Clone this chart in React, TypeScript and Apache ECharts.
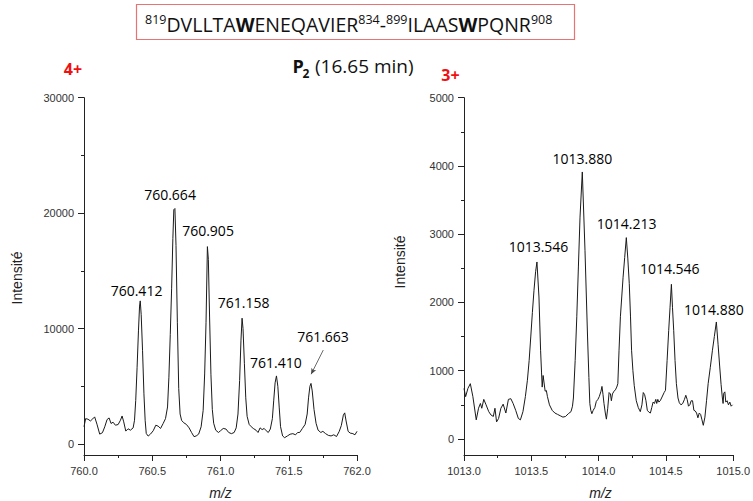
import React, { useEffect, useRef } from 'react';
import * as echarts from 'echarts';

// ---- data ----
const leftSpectrum: [number, number][] = [
  [760.0, 1500], [760.012, 2200], [760.029, 2150], [760.047, 2000], [760.064, 2180], [760.078, 2350],
  [760.095, 1720], [760.115, 860], [760.135, 980], [760.152, 1490], [760.169, 2120], [760.184, 2260],
  [760.198, 1780], [760.213, 1890], [760.23, 1630], [760.25, 1690], [760.267, 2060], [760.279, 2430],
  [760.291, 1920], [760.306, 1120], [760.323, 1320], [760.34, 1200], [760.36, 1400], [760.37, 2060],
  [760.379, 3780], [760.389, 6650], [760.399, 9800], [760.407, 11950], [760.412, 12400], [760.419, 11200],
  [760.429, 8080], [760.439, 4350], [760.448, 2060], [760.456, 920], [760.47, 690], [760.487, 860],
  [760.507, 1150], [760.526, 1630], [760.543, 1550], [760.561, 1350], [760.58, 1780], [760.597, 2200],
  [760.612, 3210], [760.622, 5790], [760.632, 9500], [760.642, 13500], [760.651, 17800], [760.658, 20300],
  [760.666, 20400], [760.674, 17200], [760.684, 10500], [760.694, 4800], [760.704, 2600], [760.715, 2050],
  [760.73, 1850], [760.75, 1700], [760.77, 1400], [760.788, 1000], [760.806, 640], [760.822, 700],
  [760.84, 860], [760.858, 1490], [760.873, 2920], [760.884, 6070], [760.894, 10500], [760.904, 17100],
  [760.911, 16000], [760.92, 11000], [760.93, 6000], [760.94, 3000], [760.95, 1800], [760.965, 1200],
  [760.985, 1000], [761.0, 1150], [761.02, 1350], [761.04, 1300], [761.06, 1000], [761.08, 900],
  [761.1, 1000], [761.115, 1400], [761.128, 2600], [761.14, 5500], [761.15, 9000], [761.158, 10900],
  [761.165, 10000], [761.175, 7000], [761.185, 4000], [761.195, 2400], [761.21, 1700], [761.225, 1500],
  [761.24, 1350], [761.26, 1200], [761.275, 1000], [761.29, 1400], [761.305, 1250], [761.32, 1350],
  [761.335, 1150], [761.35, 1000], [761.365, 1300], [761.38, 2200], [761.39, 3800], [761.4, 5300],
  [761.41, 5900], [761.42, 5000], [761.43, 3200], [761.44, 1500], [761.455, 700], [761.47, 550],
  [761.49, 700], [761.51, 850], [761.53, 900], [761.55, 800], [761.565, 1000], [761.58, 1000],
  [761.6, 1350], [761.62, 1700], [761.635, 2600], [761.645, 4000], [761.655, 5000], [761.663, 5250],
  [761.672, 4600], [761.685, 3000], [761.7, 1800], [761.715, 1200], [761.735, 1000], [761.75, 1100],
  [761.77, 900], [761.79, 750], [761.81, 700], [761.83, 800], [761.85, 650], [761.87, 1100],
  [761.885, 1600], [761.9, 2500], [761.91, 2700], [761.92, 2000], [761.935, 1100], [761.95, 950],
  [761.97, 900], [761.985, 800], [762.0, 1100],
];

const rightSpectrum: [number, number][] = [
  [1013.0, 740], [1013.012, 620], [1013.029, 740], [1013.047, 810], [1013.066, 620], [1013.091, 280],
  [1013.108, 450], [1013.122, 520], [1013.132, 450], [1013.147, 580], [1013.164, 500], [1013.184, 400],
  [1013.201, 350], [1013.218, 330], [1013.23, 450], [1013.242, 250], [1013.257, 300], [1013.274, 450],
  [1013.291, 510], [1013.311, 380], [1013.33, 580], [1013.348, 590], [1013.365, 520], [1013.384, 420],
  [1013.404, 300], [1013.419, 280], [1013.438, 400], [1013.456, 620], [1013.471, 860], [1013.484, 1150],
  [1013.496, 1494], [1013.508, 1850], [1013.52, 2178], [1013.532, 2450], [1013.542, 2593], [1013.557, 2080],
  [1013.569, 1300], [1013.576, 980], [1013.581, 760], [1013.588, 930], [1013.595, 820], [1013.603, 700],
  [1013.612, 710], [1013.62, 620], [1013.635, 500], [1013.655, 420], [1013.675, 380], [1013.695, 360],
  [1013.715, 340], [1013.735, 320], [1013.755, 330], [1013.775, 370], [1013.795, 400], [1013.806, 480],
  [1013.813, 600], [1013.826, 1150], [1013.838, 1790], [1013.85, 2520], [1013.862, 3250], [1013.879, 3912],
  [1013.899, 2764], [1013.918, 1494], [1013.928, 900], [1013.935, 518], [1013.942, 420], [1013.95, 370],
  [1013.96, 420], [1013.972, 460], [1013.983, 550], [1013.995, 580], [1014.005, 620], [1014.018, 700],
  [1014.025, 770], [1014.033, 650], [1014.04, 520], [1014.05, 380], [1014.058, 290], [1014.068, 450],
  [1014.078, 680], [1014.088, 660], [1014.095, 560], [1014.103, 660], [1014.115, 700], [1014.125, 720],
  [1014.135, 760], [1014.143, 810], [1014.152, 1300], [1014.162, 1790], [1014.172, 2080], [1014.182, 2370],
  [1014.194, 2660], [1014.206, 2950], [1014.217, 2650], [1014.228, 2275], [1014.237, 1800], [1014.245, 1300],
  [1014.255, 1000], [1014.265, 780], [1014.28, 560], [1014.295, 460], [1014.31, 400], [1014.322, 500],
  [1014.332, 680], [1014.342, 650], [1014.352, 560], [1014.362, 420], [1014.375, 390], [1014.385, 380],
  [1014.395, 460], [1014.405, 540], [1014.415, 520], [1014.425, 580], [1014.432, 520], [1014.44, 580],
  [1014.448, 540], [1014.458, 560], [1014.468, 600], [1014.487, 680], [1014.497, 713], [1014.509, 1150],
  [1014.521, 1592], [1014.531, 1930], [1014.541, 2266], [1014.549, 1930], [1014.558, 1592], [1014.568, 1150],
  [1014.578, 810], [1014.59, 600], [1014.6, 530], [1014.612, 500], [1014.625, 520], [1014.638, 580],
  [1014.648, 640], [1014.658, 580], [1014.668, 480], [1014.678, 500], [1014.688, 560], [1014.698, 560],
  [1014.708, 420], [1014.718, 410], [1014.728, 380], [1014.738, 310], [1014.748, 380], [1014.758, 360],
  [1014.768, 280], [1014.778, 200], [1014.79, 320], [1014.802, 560], [1014.814, 810], [1014.83, 1050],
  [1014.846, 1300], [1014.86, 1500], [1014.875, 1714], [1014.888, 1380], [1014.9, 1055], [1014.91, 800],
  [1014.919, 615], [1014.925, 520], [1014.93, 670], [1014.938, 690], [1014.945, 540], [1014.955, 560],
  [1014.965, 500], [1014.975, 540], [1014.985, 480], [1014.995, 500],
];

const leftPeakMz = [760.412, 760.664, 760.905, 761.158, 761.41, 761.663];
const leftPeakInt = [12400, 20400, 17100, 10900, 5900, 5250];
const rightPeakMz = [1013.546, 1013.88, 1014.213, 1014.546, 1014.88];
const rightPeakInt = [2593, 3912, 2950, 2266, 1714];

const leftXTicks = { min: 760, max: 762, interval: 0.5 };
const rightXTicks = { min: 1013, max: 1015, interval: 0.5 };
const leftYMajor = [0, 10000, 20000, 30000];
const leftYMinor = [5000, 15000, 25000];
const rightYMajor = [0, 1000, 2000, 3000, 4000, 5000];
const rightYMinor = [500, 1500, 2500, 3500, 4500];
const leftArrow: [number, number][] = [[761.753, 8140], [761.664, 6050]];

// label placement (pixel offsets from peak apex)
const leftLabelOffset = [[-3.7, -10.7], [-4.6, -14.1], [0.5, -16.6], [1.6, -15.5], [-0.5, -13.1], [12, -47.3]];
const rightLabelOffset = [[1, -15.1], [-0.1, -13.1], [-0.6, -13.7], [-2.3, -16.1], [-3.1, -12.7]];

const AXIS_COLOR = '#222';
const LABEL_COLOR = '#333';
const TICK_FONT = 'Liberation Sans';

function xAxisCfg(grid: number, t: { min: number; max: number; interval: number }) {
  return {
    type: 'value', gridIndex: grid, min: t.min, max: t.max, interval: t.interval,
    axisLine: { show: true, onZero: false, lineStyle: { color: AXIS_COLOR, width: 1 } },
    axisTick: { show: true, length: 6, lineStyle: { color: AXIS_COLOR } },
    minorTick: { show: true, splitNumber: 2, length: 3, lineStyle: { color: AXIS_COLOR } },
    axisLabel: { formatter: (v: number) => v.toFixed(1), fontSize: 11, color: LABEL_COLOR, fontFamily: TICK_FONT, margin: 10 },
    splitLine: { show: false },
  };
}
function yAxisCfg(grid: number, min: number, max: number, major: number[]) {
  return {
    type: 'value', gridIndex: grid, position: 'left', min, max,
    axisLine: { show: true, onZero: false, lineStyle: { color: AXIS_COLOR, width: 1 } },
    axisTick: { show: true, length: 6, customValues: major, lineStyle: { color: AXIS_COLOR } },
    axisLabel: {
      customValues: major, formatter: (v: number) => String(Math.round(v)),
      fontSize: 11, color: LABEL_COLOR, fontFamily: TICK_FONT, margin: 10,
    },
    splitLine: { show: false },
  };
}
function yMinorCfg(grid: number, min: number, max: number, minor: number[]) {
  return {
    type: 'value', gridIndex: grid, position: 'left', min, max,
    axisLine: { show: false, onZero: false },
    axisTick: { show: true, length: 3, customValues: minor, lineStyle: { color: AXIS_COLOR } },
    axisLabel: { show: false },
    splitLine: { show: false },
  };
}
function peakSeries(xi: number, yi: number, mz: number[], ints: number[], offs: number[][]) {
  return {
    type: 'scatter', xAxisIndex: xi, yAxisIndex: yi, symbolSize: 0.1, silent: true,
    itemStyle: { color: 'rgba(0,0,0,0)' },
    data: mz.map((m, i) => ({ value: [m, ints[i]], label: { offset: offs[i] } })),
    label: {
      show: true, position: 'inside', formatter: (p: any) => p.value[0].toFixed(3),
      fontSize: 14, fontFamily: 'Open Sans', color: '#000', opacity: 1,
    },
    z: 5,
  };
}

export default function App() {
  const ref = useRef<HTMLDivElement>(null);
  useEffect(() => {
    if (!ref.current) return;
    const chart = echarts.init(ref.current, undefined, { renderer: 'svg' });
    const option: any = {
      animation: false,
      backgroundColor: '#ffffff',
      grid: [
        { left: 84, top: 97.7, width: 273, height: 357.3 },
        { left: 464, top: 97.7, width: 273, height: 357.3 },
      ],
      xAxis: [xAxisCfg(0, leftXTicks), xAxisCfg(1, rightXTicks)],
      yAxis: [
        yAxisCfg(0, -950, 30000, leftYMajor),
        yMinorCfg(0, -950, 30000, leftYMinor),
        yAxisCfg(1, -235, 5000, rightYMajor),
        yMinorCfg(1, -235, 5000, rightYMinor),
      ],
      series: [
        {
          type: 'line', xAxisIndex: 0, yAxisIndex: 0, data: leftSpectrum, showSymbol: false, silent: true,
          lineStyle: { color: '#1a1a1a', width: 1 },
          markLine: {
            silent: true, symbol: ['none', 'arrow'], symbolSize: [4, 6],
            lineStyle: { color: '#444', width: 0.8, type: 'solid' }, label: { show: false },
            data: [[{ coord: leftArrow[0] }, { coord: leftArrow[1] }]],
          },
        },
        {
          type: 'line', xAxisIndex: 1, yAxisIndex: 2, data: rightSpectrum, showSymbol: false, silent: true,
          lineStyle: { color: '#1a1a1a', width: 1 },
        },
        peakSeries(0, 0, leftPeakMz, leftPeakInt, leftLabelOffset),
        peakSeries(1, 2, rightPeakMz, rightPeakInt, rightLabelOffset),
      ],
      graphic: [
        {
          type: 'rect', shape: { x: 136.5, y: 4.5, width: 438, height: 35 },
          style: { fill: '#fff', stroke: '#e87373', lineWidth: 1.2 },
        },
        {
          type: 'text', x: 145, y: 24.7,
          style: {
            text: '{s|819}{m|DVLLTA}{b|W}{m|ENEQAVIER}{s|834}{m|-}{s|899}{m|ILAAS}{b|W}{m|PQNR}{s|908}',
            align: 'left', verticalAlign: 'middle', fill: '#111',
            rich: {
              s: { fontSize: 12.5, fontFamily: 'Open Sans', verticalAlign: 'top', fill: '#111' },
              m: { fontSize: 19.5, fontFamily: 'Open Sans', lineHeight: 24, fill: '#111' },
              b: { fontSize: 19.5, fontFamily: 'Open Sans', fontWeight: 'bold', lineHeight: 24, fill: '#111' },
            },
          },
        },
        { type: 'text', x: 292.5, y: 65.9, style: { text: 'P', font: 'bold 18px "Open Sans"', fill: '#111', align: 'left', verticalAlign: 'middle' } },
        { type: 'text', x: 302.5, y: 73.3, style: { text: '2', font: 'bold 12px "Open Sans"', fill: '#111', align: 'left', verticalAlign: 'middle' } },
        { type: 'text', x: 315, y: 65.9, style: { text: '(16.65 min)', font: '19px "Open Sans"', fill: '#111', align: 'left', verticalAlign: 'middle' } },
        { type: 'text', x: 73, y: 69, style: { text: '4+', font: 'bold 16px "Open Sans"', fill: '#f01010', align: 'center', verticalAlign: 'middle' } },
        { type: 'text', x: 450.5, y: 74.5, style: { text: '3+', font: 'bold 16px "Open Sans"', fill: '#f01010', align: 'center', verticalAlign: 'middle' } },
        { type: 'text', x: 16.5, y: 278, rotation: Math.PI / 2, style: { text: 'Intensité', font: '14px "Liberation Sans"', fill: '#222', align: 'center', verticalAlign: 'middle' } },
        { type: 'text', x: 400, y: 262, rotation: Math.PI / 2, style: { text: 'Intensité', font: '14px "Liberation Sans"', fill: '#222', align: 'center', verticalAlign: 'middle' } },
        { type: 'text', x: 220.5, y: 493, style: { text: 'm/z', font: 'italic 14px "Liberation Sans"', fill: '#222', align: 'center', verticalAlign: 'middle' } },
        { type: 'text', x: 600.5, y: 493, style: { text: 'm/z', font: 'italic 14px "Liberation Sans"', fill: '#222', align: 'center', verticalAlign: 'middle' } },
      ],
    };
    chart.setOption(option);
    return () => chart.dispose();
  }, []);
  return <div ref={ref} style={{ position: 'absolute', left: 0, top: 0, width: 753, height: 501, background: '#fff' }} />;
}
